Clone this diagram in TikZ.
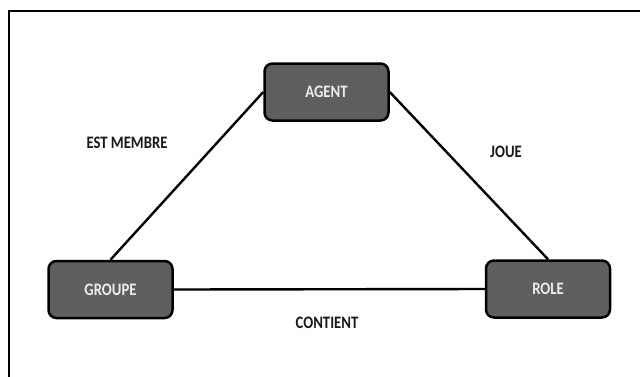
\documentclass[tikz,border=0pt]{standalone}
\usepackage{fontspec}
\setmainfont{Carlito}[FakeStretch=0.84]
\usepackage{tikz}
\usetikzlibrary{positioning}
\definecolor{boxgray}{HTML}{5F5F5F}
\definecolor{boxtext}{HTML}{ECECEC}

\begin{document}
\begin{tikzpicture}[
  x=1pt,y=-1pt,
  font=\fontsize{17.5}{19}\selectfont\bfseries,
  entity/.style={draw=black,fill=boxgray,text=boxtext,line width=2.5pt,
                 rounded corners=8pt,minimum width=124pt,minimum height=57pt},
  rel/.style={text=black!90},
  link/.style={line width=2.4pt},
  frame/.style={line width=2.2pt}
]
\useasboundingbox (0,0) rectangle (640,376);
% --- frame (cut off at right and bottom) ---
\draw[frame] (9,380) |- (644,11);
% --- entities ---
\node[entity] (agent)  at (326.5,92)  {AGENT};
\node[entity] (groupe) at (110.5,289.5) {GROUPE};
\node[entity] (role)   at (548,289)   {ROLE};
% --- relations ---
\draw[link] (agent.west) -- (groupe.north);
\draw[link] (agent.east) -- (role.north);
\draw[link] (groupe.east) -- (role.west);
\node[rel] (estmembre) at (127,143) {EST MEMBRE};
\node[rel] (joue)      at (506,152) {JOUE};
\node[rel] (contient)  at (327,323) {CONTIENT};
\end{tikzpicture}
\end{document}
